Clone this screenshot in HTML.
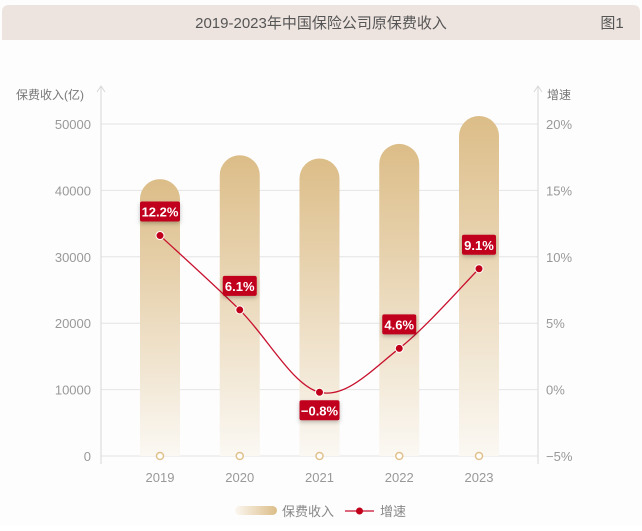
<!DOCTYPE html>
<html><head><meta charset="utf-8">
<style>
body{margin:0;background:#fff;font-family:"Liberation Sans","Noto Sans CJK SC",sans-serif;}
svg text{font-family:"Liberation Sans","Noto Sans CJK SC",sans-serif;}
</style></head>
<body>
<svg id="c" width="642" height="526" xmlns="http://www.w3.org/2000/svg">
<defs>
<linearGradient id="barg" x1="0" y1="0" x2="0" y2="1">
<stop offset="0" stop-color="#dcbd88"/><stop offset="1" stop-color="#fbf8f3"/></linearGradient>
<linearGradient id="legg" x1="0" y1="0" x2="1" y2="0">
<stop offset="0" stop-color="#fbf7f0"/><stop offset="1" stop-color="#dcbd88"/></linearGradient>
<filter id="sh" x="-20%" y="-20%" width="140%" height="160%"><feDropShadow dx="0" dy="2" stdDeviation="2" flood-color="#000" flood-opacity="0.25"/></filter>
</defs>
<rect x="0" y="0" width="642" height="526" fill="#fdfdfd"/>
<path d="M2 12 Q2 5 9 5 L633 5 Q640 5 640 12 L640 40 L2 40 Z" fill="#ede4e0"/>
<text x="321" y="28" text-anchor="middle" font-size="15" fill="#555">2019-2023年中国保险公司原保费收入</text>
<text x="612" y="28" text-anchor="middle" font-size="15" fill="#555">图1</text>
<g id="g"></g>
</svg>
<script>
const categories=["2019","2020","2021","2022","2023"];
const premiums=[41700,45300,44800,47000,51200];
const growth=[11.6,6.0,-0.2,3.1,9.1];
const growthLabels=["12.2%","6.1%","−0.8%","4.6%","9.1%"];
const leftTicks=[0,10000,20000,30000,40000,50000];
const rightTicks=["-5%","0%","5%","10%","15%","20%"];
const rightTickVals=[-5,0,5,10,15,20];

const NS="http://www.w3.org/2000/svg";
const g=document.getElementById("g");
const X0=101,X1=538,Y0=456,Y1=124;
const yL=v=>Y0-(v/50000)*(Y0-Y1);
const yR=v=>Y0-((v+5)/25)*(Y0-Y1);
const xC=i=>160+i*79.75;
function mk(t,a,txt){const e=document.createElementNS(NS,t);for(const k in a)e.setAttribute(k,a[k]);if(txt!==undefined)e.textContent=txt;g.appendChild(e);return e;}

leftTicks.forEach((v,i)=>{
 const l=mk("line",{x1:X0,x2:X1,y1:yL(v),y2:yL(v),stroke:"#e4e4e4","stroke-width":1});
 
 
 const t=mk("text",{x:91,y:yL(v)+5,"text-anchor":"end","font-size":13,fill:"#999"},String(v));
 
 
});
rightTickVals.forEach((v,i)=>{
 const t=mk("text",{x:546,y:yR(v)+5,"font-size":13,fill:"#999"},rightTicks[i].replace("-","−"));
 
 
});
[X0,X1].forEach((x,i)=>{
 const a=mk("path",{d:`M${x} ${Y0+8} L${x} 86 M${x-4} 92 L${x} 86 L${x+4} 92`,stroke:"#d8d8d8",fill:"none","stroke-width":1});
 
 
});
let t1=mk("text",{x:16,y:99,"font-size":12,fill:"#777"},"保费收入(亿)");


let t2=mk("text",{x:547,y:99,"font-size":12,fill:"#777"},"增速");



const bw=40;
premiums.forEach((v,i)=>{
 const x=xC(i)-bw/2,top=yL(v);
 const p=mk("path",{d:`M${x} ${Y0} L${x} ${top+20} A20 20 0 0 1 ${x+bw} ${top+20} L${x+bw} ${Y0} Z`,fill:"url(#barg)"});
 
 
 const c=mk("circle",{cx:xC(i),cy:Y0,r:3.5,fill:"#fff",stroke:"#e0c08c","stroke-width":1.5});
 
 
 const t=mk("text",{x:xC(i),y:482,"text-anchor":"middle","font-size":13,fill:"#999"},categories[i]);
 
 
});

const pts=growth.map((v,i)=>[xC(i),yR(v)]);
let d=`M${pts[0][0]} ${pts[0][1]}`;
for(let i=0;i<pts.length-1;i++){
 const p0=pts[Math.max(0,i-1)],p1=pts[i],p2=pts[i+1],p3=pts[Math.min(pts.length-1,i+2)];
 const c1=[p1[0]+(p2[0]-p0[0])/6,p1[1]+(p2[1]-p0[1])/6],c2=[p2[0]-(p3[0]-p1[0])/6,p2[1]-(p3[1]-p1[1])/6];
 d+=` C${c1[0]} ${c1[1]} ${c2[0]} ${c2[1]} ${p2[0]} ${p2[1]}`;
}
const line=mk("path",{d,fill:"none",stroke:"#c8102e","stroke-width":1.3});


pts.forEach((p,i)=>{
 const c=mk("circle",{cx:p[0],cy:p[1],r:4,fill:"#c0001a",stroke:"#fff","stroke-width":1});
 
 
 const below=growth[i]<1;
 const cy=below?p[1]+18:p[1]-24;
 const w=growthLabels[i].length>4?40:34;
 const r=mk("rect",{x:p[0]-w/2,y:cy-10,width:w,height:20,rx:2,fill:"#c0001a",filter:"url(#sh)"});
 
 
 const t=mk("text",{x:p[0],y:cy+5,"text-anchor":"middle","font-size":13,"font-weight":"bold",fill:"#fff"},growthLabels[i]);
 
 
});

const lr=mk("rect",{x:235,y:506,width:42,height:9,rx:4.5,fill:"url(#legg)"});


const lt=mk("text",{x:282,y:516,"font-size":13,fill:"#888"},"保费收入");


const ll=mk("line",{x1:345,x2:374,y1:511,y2:511,stroke:"#c8102e","stroke-width":1.3});


const lc=mk("circle",{cx:359.5,cy:511,r:3.5,fill:"#c0001a"});


const lt2=mk("text",{x:380,y:516,"font-size":13,fill:"#888"},"增速");


</script>
</body></html>
